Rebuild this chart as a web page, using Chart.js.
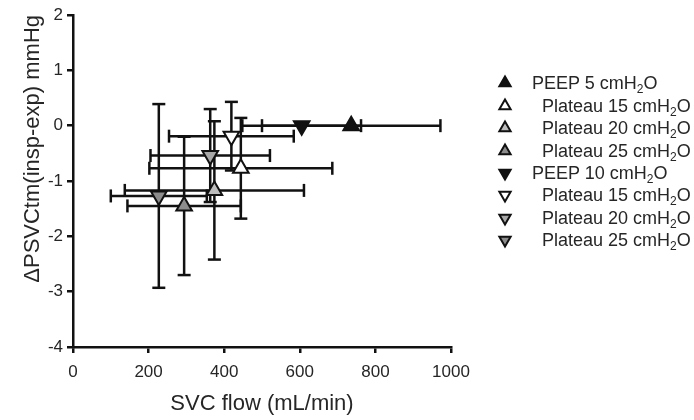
<!DOCTYPE html>
<html>
<head>
<meta charset="utf-8">
<script src="https://cdn.jsdelivr.net/npm/chart.js@4/dist/chart.umd.min.js"></script>
<style>
html,body{margin:0;padding:0;background:#fff;}
#wrap{position:relative;width:694px;height:420px;}
#legend{position:absolute;left:0;top:0;font-family:"Liberation Sans",Arial,sans-serif;font-size:18px;color:#262626;}
.row{position:absolute;height:22px;line-height:22px;white-space:nowrap;}
.sub{font-size:12px;position:relative;top:4px;}
svg.mk{position:absolute;}
</style>
</head>
<body>
<div id="wrap">
<canvas id="c" width="694" height="420"></canvas>
<div id="legend"></div>
</div>
<script>
// ---- data ----
const seriesNames = ['PEEP 5', 'Plateau 15', 'Plateau 20', 'Plateau 25', 'PEEP 10', 'Plateau 15', 'Plateau 20', 'Plateau 25'];
const unitMain = ' cmH';
const unitSub = '2';
const unitEnd = 'O';
const flowMean = [736, 444, 374, 294, 605, 419, 363, 227];   // SVC flow (mL/min)
const flowSD   = [236, 242, 237, 150, 157, 165, 158, 127];
const dPMean   = [0.0, -0.77, -1.17, -1.45, 0.0, -0.19, -0.54, -1.27]; // ΔPSVCtm mmHg
const dPSD     = [0, 0.91, 1.25, 1.25, 0, 0.62, 0.84, 1.66];
const xTicks = [0, 200, 400, 600, 800, 1000];
const yTicks = [-4, -3, -2, -1, 0, 1, 2];

// ---- styles ----
const fills = ['#111111', '#ffffff', '#bdbdbd', '#8c8c8c', '#111111', '#ffffff', '#a8a8a8', '#8c8c8c'];
const rotations = [0, 0, 0, 0, 180, 180, 180, 180];
const indent = [false, true, true, true, false, true, true, true];
const FONT = '"Liberation Sans", Arial, sans-serif';
const INK = '#111111';
const TXT = '#262626';

Chart.defaults.font.family = FONT;

const datasets = [];
// markers (drawn on top: first datasets)
seriesNames.forEach((n, i) => {
  datasets.push({
    label: n + unitMain + unitSub + unitEnd,
    data: [{x: flowMean[i], y: dPMean[i]}],
    pointStyle: 'triangle',
    rotation: rotations[i],
    pointRadius: 9,
    pointBorderWidth: 2,
    pointBackgroundColor: fills[i],
    pointBorderColor: INK,
    order: 0
  });
});
// error bars
seriesNames.forEach((n, i) => {
  if (flowSD[i] > 0) {
    datasets.push({
      label: 'xerr' + i,
      data: [{x: flowMean[i] - flowSD[i], y: dPMean[i]}, {x: flowMean[i] + flowSD[i], y: dPMean[i]}],
      showLine: true, borderColor: INK, borderWidth: 2.5,
      pointStyle: 'line', rotation: 90, pointRadius: 6.5, pointBorderWidth: 2.5, pointBorderColor: INK,
      order: 1
    });
  }
  if (dPSD[i] > 0) {
    datasets.push({
      label: 'yerr' + i,
      data: [{x: flowMean[i], y: dPMean[i] - dPSD[i]}, {x: flowMean[i], y: dPMean[i] + dPSD[i]}],
      showLine: true, borderColor: INK, borderWidth: 2.5,
      pointStyle: 'line', rotation: 0, pointRadius: 6.5, pointBorderWidth: 2.5, pointBorderColor: INK,
      order: 1
    });
  }
});

const chart = new Chart(document.getElementById('c'), {
  type: 'scatter',
  data: {datasets},
  options: {
    responsive: false,
    animation: false,
    devicePixelRatio: 1,
    events: [],
    layout: {padding: {top: 15, right: 243, bottom: 0, left: 0}},
    plugins: {legend: {display: false}, tooltip: {enabled: false}},
    scales: {
      x: {
        type: 'linear', min: xTicks[0], max: xTicks[xTicks.length - 1],
        afterBuildTicks: (s) => { s.ticks = xTicks.map(v => ({value: v})); },
        ticks: {color: TXT, font: {size: 17}, padding: 9, callback: (v) => String(v)},
        grid: {drawOnChartArea: false, drawTicks: true, tickLength: 6, color: INK, lineWidth: 2.5},
        border: {display: true, color: INK, width: 2.5},
        title: {display: true, text: 'SVC flow (mL/min)', color: TXT, font: {size: 22}, padding: {top: 0, bottom: 3}},
        afterFit: (s) => { s.height = 73; }
      },
      y: {
        type: 'linear', min: yTicks[0], max: yTicks[yTicks.length - 1],
        afterBuildTicks: (s) => { s.ticks = yTicks.map(v => ({value: v})); },
        ticks: {color: TXT, font: {size: 17}, padding: 4, callback: (v) => String(v)},
        grid: {drawOnChartArea: false, drawTicks: true, tickLength: 6, color: INK, lineWidth: 2.5},
        border: {display: true, color: INK, width: 2.5},
        title: {display: true, text: 'ΔPSVCtm(insp-exp) mmHg', align: 'end', color: TXT, font: {size: 22}, padding: {top: 20, bottom: 0}},
        afterFit: (s) => { s.width = 73; }
      }
    }
  }
});

// ---- legend (HTML) ----
const legend = document.getElementById('legend');
const rowY0 = 83.3, rowStep = 22.4, markX = 505, r = 6.5;
seriesNames.forEach((n, i) => {
  const cy = rowY0 + rowStep * i;
  const svgNS = 'http://www.w3.org/2000/svg';
  const svg = document.createElementNS(svgNS, 'svg');
  svg.setAttribute('class', 'mk');
  svg.setAttribute('width', 20); svg.setAttribute('height', 20);
  svg.style.left = (markX - 10) + 'px';
  svg.style.top = (cy - 10) + 'px';
  const p = document.createElementNS(svgNS, 'polygon');
  const s = rotations[i] === 180 ? -1 : 1;
  const pts = [[10, 10 - s * r], [10 + 0.866 * r, 10 + s * 0.5 * r], [10 - 0.866 * r, 10 + s * 0.5 * r]];
  p.setAttribute('points', pts.map(q => q.join(',')).join(' '));
  p.setAttribute('fill', fills[i]);
  p.setAttribute('stroke', INK);
  p.setAttribute('stroke-width', 2);
  svg.appendChild(p);
  legend.appendChild(svg);
  const row = document.createElement('div');
  row.className = 'row';
  row.style.left = (indent[i] ? 542 : 532) + 'px';
  row.style.top = (cy - 11) + 'px';
  row.appendChild(document.createTextNode(n + unitMain));
  const sub = document.createElement('span');
  sub.className = 'sub';
  sub.textContent = unitSub;
  row.appendChild(sub);
  row.appendChild(document.createTextNode(unitEnd));
  legend.appendChild(row);
});
</script>
</body>
</html>
